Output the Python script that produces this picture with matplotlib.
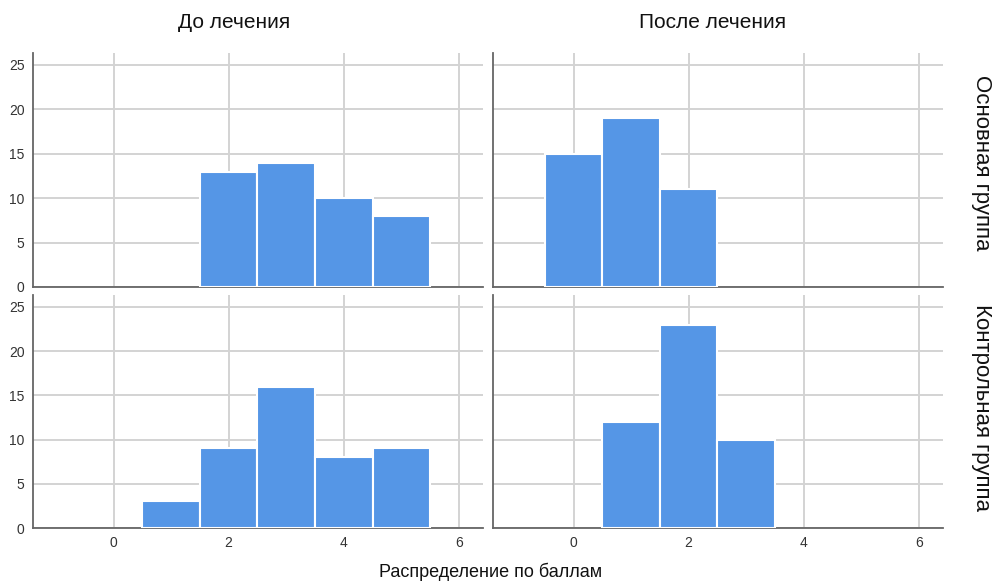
import matplotlib
matplotlib.use("Agg")
import matplotlib.pyplot as plt

col_titles = ["До лечения", "После лечения"]
row_titles = ["Основная группа", "Контрольная группа"]
xlabel = "Распределение по баллам"

main_before_x = [2, 3, 4, 5]
main_before_y = [13, 14, 10, 8]
main_after_x = [0, 1, 2]
main_after_y = [15, 19, 11]
ctrl_before_x = [1, 2, 3, 4, 5]
ctrl_before_y = [3, 9, 16, 8, 9]
ctrl_after_x = [1, 2, 3]
ctrl_after_y = [12, 23, 10]

xticks = [0, 2, 4, 6]
yticks = [0, 5, 10, 15, 20, 25]

panels = [[(main_before_x, main_before_y), (main_after_x, main_after_y)],
          [(ctrl_before_x, ctrl_before_y), (ctrl_after_x, ctrl_after_y)]]

plt.rcParams['font.family'] = ['Liberation Sans', 'DejaVu Sans']

fig = plt.figure(figsize=(9.95, 5.82), dpi=100)
W, H = 995, 582
lefts = [33, 493]
tops = [53, 295]
bottoms = [287, 528]
width = 450

title_x = [234, 713]
row_y = [163, 407]

bar_color = "#5596e6"
for r in range(2):
    for c in range(2):
        ax = fig.add_axes([lefts[c] / W, 1 - bottoms[r] / H, width / W, (bottoms[r] - tops[r]) / H])
        xs, ys = panels[r][c]
        ax.bar(xs, ys, width=1.0, color=bar_color, edgecolor="white", linewidth=1.5, zorder=3)
        ax.set_xlim(-1.4, 6.42)
        ax.set_ylim(0, 26.35)
        ax.set_xticks(xticks)
        ax.set_yticks(yticks)
        ax.grid(True, color="#d3d3d3", linewidth=1.4, zorder=0)
        for s in ["top", "right"]:
            ax.spines[s].set_visible(False)
        for s in ["left", "bottom"]:
            ax.spines[s].set_color("#666666")
            ax.spines[s].set_linewidth(1.3)
        ax.tick_params(length=0, labelsize=10, colors="#333333", pad=6)
        if c == 1:
            ax.tick_params(labelleft=False)
        if r == 0:
            ax.tick_params(labelbottom=False)

for c in range(2):
    fig.text(title_x[c] / W, 1 - 23 / H, col_titles[c], ha="center", va="center",
             fontsize=15, color="#111111")
for r in range(2):
    fig.text(982 / W, 1 - row_y[r] / H, row_titles[r], rotation=270, ha="center",
             va="center", fontsize=16, color="#111111")

fig.text(491 / W, 1 - 572 / H, xlabel, ha="center", va="center", fontsize=13, color="#111111")

fig.savefig("out.png", dpi=100)
